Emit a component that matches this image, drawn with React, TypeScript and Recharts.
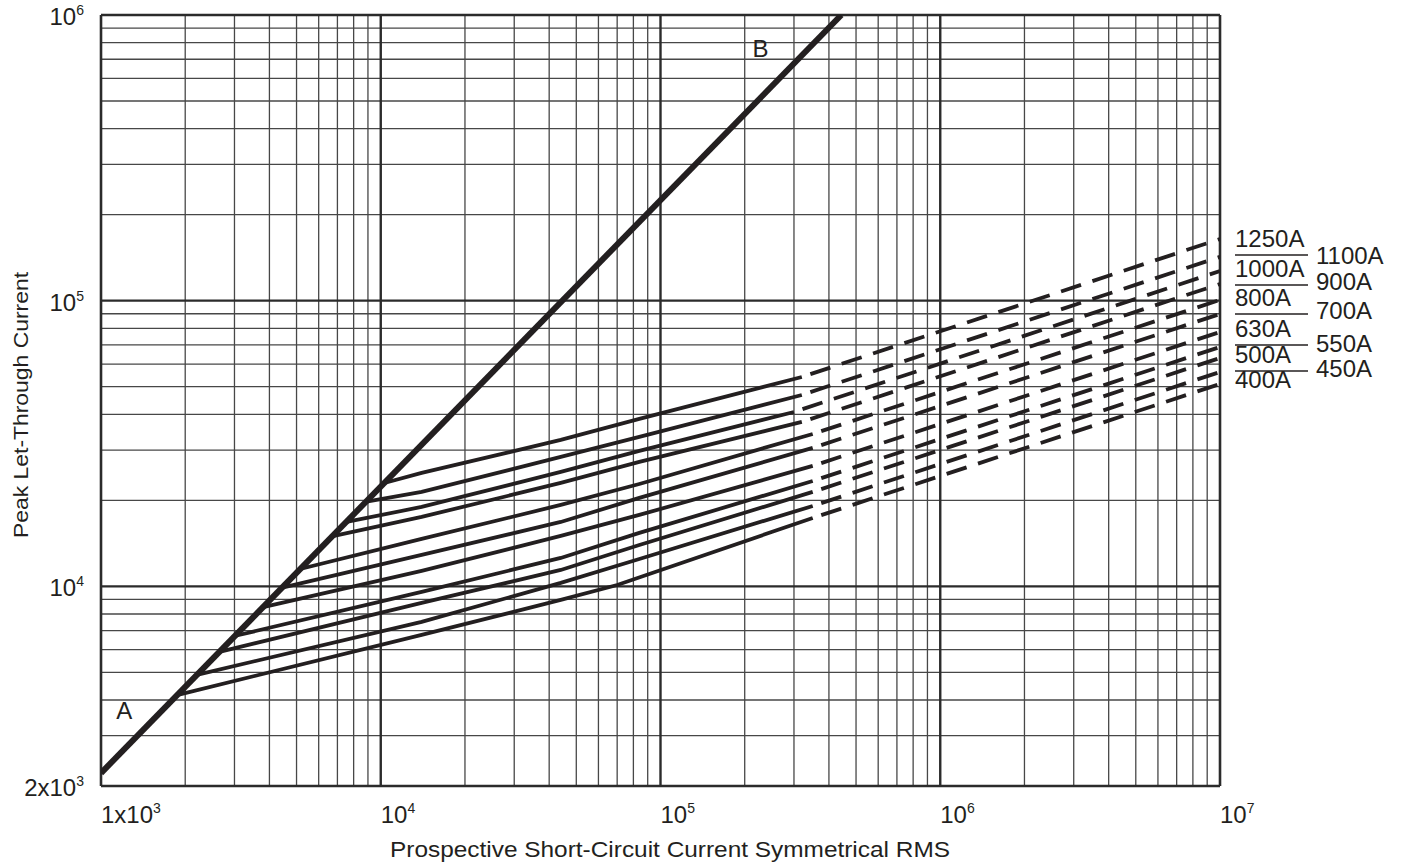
import React from "react";
import {
  Customized,
  Line,
  LineChart,
  ReferenceDot,
  ReferenceLine,
  XAxis,
  YAxis,
} from "recharts";

// axis ranges
const xMin = 1e3;
const xMax = 1e7;
const yMin = 2e3;
const yMax = 1e6;

const xTicks = [1e3, 1e4, 1e5, 1e6, 1e7];
const yTicks = [2e3, 1e4, 1e5, 1e6];

// fuse ratings, lowest curve first
const ratings = ["400A", "450A", "500A", "550A", "630A", "700A", "800A", "900A", "1000A", "1100A", "1250A"];

// line A-B : maximum peak current without fuse
const lineB = [
  [1000, 2220],
  [443000, 1000000],
];

// solid part of each curve: [prospective current, peak let-through]
const c400 = [[1900, 4180], [14000, 6760], [44000, 8960], [70000, 10110], [350000, 17350]];
const c450 = [[2200, 4900], [14000, 7510], [44000, 10280], [84000, 12470], [350000, 19110]];
const c500 = [[2650, 5900], [14000, 8750], [44000, 11410], [84000, 13960], [350000, 21400]];
const c550 = [[3000, 6700], [14000, 9560], [44000, 12570], [84000, 15380], [350000, 23380]];
const c630 = [[3800, 8450], [14000, 11320], [44000, 15010], [84000, 17780], [350000, 26390]];
const c700 = [[4450, 9900], [14000, 12880], [44000, 16800], [84000, 20390], [350000, 30510]];
const c800 = [[5150, 11500], [14000, 14650], [44000, 19270], [84000, 22820], [350000, 34150]];
const c900 = [[6750, 15000], [14000, 17500], [44000, 23010], [84000, 27250], [320000, 37620]];
const c1000 = [[7550, 16800], [14000, 18960], [44000, 25140], [84000, 29780], [300000, 40770]];
const c1100 = [[8900, 19800], [14000, 21400], [44000, 28380], [84000, 33340], [320000, 46760]];
const c1250 = [[10300, 23000], [14000, 24940], [44000, 32540], [84000, 38540], [320000, 54060]];

const solidCurves = [c400, c450, c500, c550, c630, c700, c800, c900, c1000, c1100, c1250];

// peak let-through at 10^7 A, end of the dashed extrapolation
const dashEnds = [51100, 56290, 63010, 68830, 77690, 89830, 100600, 114400, 127000, 142300, 164400];

const INK = "#231f20";
const FONT = "'Liberation Sans', Arial, Helvetica, sans-serif";

const toPts = (pts: number[][]) => pts.map(([x, y]) => ({ x, y }));

// grid values: 2..9 within every decade
const minorX: number[] = [];
for (let d = 1e3; d < xMax; d *= 10) for (let m = 2; m <= 9; m++) minorX.push(m * d);
const minorY: number[] = [];
for (let d = 1e3; d < yMax; d *= 10) for (let m = 2; m <= 9; m++) if (m * d > yMin) minorY.push(m * d);
const majorX = [1e4, 1e5, 1e6];
const majorY = [1e4, 1e5];

const expOf = (v: number) => Math.floor(Math.log10(v) + 1e-9);

function XTick(props: any) {
  const { x, y, payload } = props;
  const v = payload.value;
  const e = expOf(v);
  return (
    <text x={x} y={y + 29} textAnchor="start" fontSize={24} fill={INK} fontFamily={FONT}>
      {v === 1e3 ? "1x10" : "10"}
      <tspan dy={-10} fontSize={14}>{e}</tspan>
    </text>
  );
}

function YTick(props: any) {
  const { x, y, payload } = props;
  const v = payload.value;
  const e = expOf(v);
  const m = Math.round(v / Math.pow(10, e));
  return (
    <text x={x - 9} y={y + 10} textAnchor="end" fontSize={24} fill={INK} fontFamily={FONT}>
      {m === 1 ? "10" : `${m}x10`}
      <tspan dy={-10} fontSize={14}>{e}</tspan>
    </text>
  );
}

// rating labels to the right of the plot
const leftCol = ["1250A", "1000A", "800A", "630A", "500A", "400A"];
const rightCol = ["1100A", "900A", "700A", "550A", "450A"];
const leftBase = [247, 277, 306, 337, 363, 388];
const rightBase = [264, 290, 319, 352, 377];

function Annotations() {
  return (
    <g fontFamily={FONT} fill={INK}>
      {leftCol.map((t, i) => (
        <g key={t}>
          <text x={1235} y={leftBase[i]} fontSize={24}>
            {t}
          </text>
          {i < leftCol.length - 1 && (
            <line x1={1235} x2={1308} y1={leftBase[i] + 8} y2={leftBase[i] + 8} stroke={INK} strokeWidth={1.5} />
          )}
        </g>
      ))}
      {rightCol.map((t, i) => (
        <text key={t} x={1316} y={rightBase[i]} fontSize={24}>
          {t}
        </text>
      ))}
      <text x={390} y={857} fontSize={22} textLength={560} lengthAdjust="spacingAndGlyphs">
        Prospective Short-Circuit Current Symmetrical RMS
      </text>
      <text
        x={28}
        y={538}
        fontSize={21}
        textLength={266}
        lengthAdjust="spacingAndGlyphs"
        transform="rotate(-90 28 538)"
      >
        Peak Let-Through Current
      </text>
    </g>
  );
}

export default function App() {
  return (
    <div style={{ position: "absolute", left: 0, top: 0, width: 1403, height: 867, background: "#fff" }}>
      <LineChart width={1403} height={867} margin={{ top: 15, right: 183, bottom: 41, left: 0 }}>
        <XAxis
          dataKey="x"
          type="number"
          scale="log"
          domain={[xMin, xMax]}
          allowDataOverflow
          ticks={xTicks}
          interval={0}
          tick={<XTick />}
          axisLine={false}
          tickLine={false}
          height={40}
        />
        <YAxis
          dataKey="y"
          type="number"
          scale="log"
          domain={[yMin, yMax]}
          allowDataOverflow
          ticks={yTicks}
          interval={0}
          tick={<YTick />}
          axisLine={false}
          tickLine={false}
          width={101}
        />
        {minorX.map((v) => (
          <ReferenceLine key={`mx${v}`} x={v} stroke="#474747" strokeWidth={1.3} />
        ))}
        {minorY.map((v) => (
          <ReferenceLine key={`my${v}`} y={v} stroke="#474747" strokeWidth={1.3} />
        ))}
        {majorX.map((v) => (
          <ReferenceLine key={`Mx${v}`} x={v} stroke="#2b2b2b" strokeWidth={2.4} />
        ))}
        {majorY.map((v) => (
          <ReferenceLine key={`My${v}`} y={v} stroke="#2b2b2b" strokeWidth={2.4} />
        ))}
        <ReferenceLine x={xMin} stroke="#2b2b2b" strokeWidth={2.6} />
        <ReferenceLine x={xMax} stroke="#2b2b2b" strokeWidth={2.6} />
        <ReferenceLine y={yMin} stroke="#2b2b2b" strokeWidth={2.6} />
        <ReferenceLine y={yMax} stroke="#2b2b2b" strokeWidth={2.6} />

        {solidCurves.map((c, i) => (
          <Line
            key={`s${ratings[i]}`}
            data={toPts(c)}
            dataKey="y"
            stroke={INK}
            strokeWidth={3.8}
            dot={false}
            activeDot={false}
            type="linear"
            isAnimationActive={false}
          />
        ))}
        {solidCurves.map((c, i) => (
          <Line
            key={`d${ratings[i]}`}
            data={toPts([c[c.length - 1], [xMax, dashEnds[i]]])}
            dataKey="y"
            stroke={INK}
            strokeWidth={3.8}
            strokeDasharray="21 12"
            strokeDashoffset={24}
            dot={false}
            activeDot={false}
            type="linear"
            isAnimationActive={false}
          />
        ))}
        <Line
          data={toPts(lineB)}
          dataKey="y"
          stroke={INK}
          strokeWidth={6}
          dot={false}
          activeDot={false}
          type="linear"
          isAnimationActive={false}
        />
        <ReferenceDot
          x={1210}
          y={3690}
          r={0}
          fill="none"
          stroke="none"
          label={{ value: "A", position: "center", fontSize: 24, fill: INK, fontFamily: FONT }}
        />
        <ReferenceDot
          x={228000}
          y={766000}
          r={0}
          fill="none"
          stroke="none"
          label={{ value: "B", position: "center", fontSize: 24, fill: INK, fontFamily: FONT }}
        />
        <Customized component={Annotations} />
      </LineChart>
    </div>
  );
}
